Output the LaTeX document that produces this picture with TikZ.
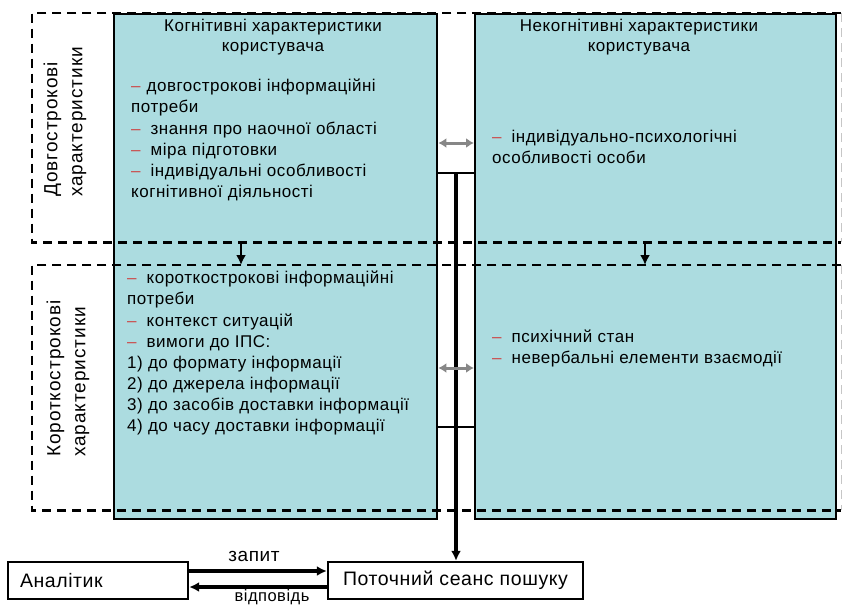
\documentclass[tikz,border=0pt]{standalone}
\usepackage{fontspec}
\setmainfont{Liberation Sans}
\newfontfamily\itemfont[LetterSpace=3]{Liberation Sans}
\newfontfamily\sidefont[LetterSpace=5]{Liberation Sans}
\usetikzlibrary{arrows.meta}
\definecolor{tealfill}{RGB}{172,220,224}
\definecolor{dashred}{RGB}{205,70,70}
\definecolor{arrowgray}{RGB}{135,135,135}
\newcommand{\rdash}[1][10pt]{\textcolor{dashred}{–}\hspace{#1}}
\begin{document}
\begin{tikzpicture}[x=1pt,y=-1pt,
		colbox/.style={draw,line width=2.4pt,fill=tealfill,anchor=north west,inner sep=0},
		rowbox/.style={anchor=north west,inner sep=0,minimum width=809pt},
		rowline/.style={dash pattern=on 9pt off 6pt,line width=2.6pt},
		edgeline/.style={dash pattern=on 9pt off 6pt,line width=1pt,gray!45},
		plainbox/.style={draw,line width=2.4pt,fill=white,minimum height=37pt,inner sep=0,font=\itemfont\fontsize{19.5}{22}\selectfont},
		itemtext/.style={anchor=north west,align=left,inner sep=0,font=\itemfont\fontsize{17}{21.1}\selectfont},
		titletext/.style={anchor=north,align=center,inner sep=0,font=\itemfont\fontsize{17}{20}\selectfont},
		sidetext/.style={rotate=90,anchor=west,align=left,inner sep=0,font=\sidefont\fontsize{19}{25}\selectfont},
		mainarrow/.style={-{Latex[length=10pt,width=10pt]},line width=3pt},
		grayarrow/.style={{Latex[length=8pt,width=10pt]}-{Latex[length=8pt,width=10pt]},line width=3pt,arrowgray}]
	\useasboundingbox (0,0) rectangle (842,605);

	% columns
	\node[colbox,minimum width=323pt,minimum height=505pt] (cog) at (113,13) {};
	\node[colbox,minimum width=361pt,minimum height=505pt] (noncog) at (474,13) {};

	% rows
	\node[rowbox,minimum height=229pt] (longrow) at (32,13) {};
	\node[rowbox,minimum height=245pt] (shortrow) at (32,265) {};
	\draw[rowline] (longrow.north east) -- (longrow.north west) -- (longrow.south west) -- (longrow.south east); % long-term row
	\draw[rowline] (shortrow.north east) -- (shortrow.north west) -- (shortrow.south west) -- (shortrow.south east); % short-term row
	\draw[edgeline] (longrow.north east) -- (longrow.south east);
	\draw[edgeline] (shortrow.north east) -- (shortrow.south east);

	% bottom boxes
	\node[plainbox,text width=160pt,inner xsep=10pt,align=left] (analyst) at (98,580.5) {\hspace{2pt}Аналітик};
	\node[plainbox,minimum width=255pt] (session) at (455.5,580.5) {Поточний сеанс пошуку};

	% join of both columns
	\coordinate (jointop) at (456,173);
	\coordinate (joinbot) at (456,427);
	\draw[line width=2pt] (cog.east |- jointop) -- (noncog.west |- jointop); % upper join
	\draw[line width=2pt] (cog.east |- joinbot) -- (noncog.west |- joinbot); % lower join
	\draw[mainarrow,line width=3.5pt] (jointop) -- (jointop |- session.north); % to session

	\draw[grayarrow] (cog.east |- 0,143) -- (noncog.west |- 0,143);
	\draw[grayarrow] (cog.east |- 0,368) -- (noncog.west |- 0,368);

	\draw[mainarrow,line width=2.4pt] (longrow.south -| 241,0) -- (shortrow.north -| 241,0); % cognitive, long to short
	\draw[mainarrow,line width=2.4pt] (longrow.south -| 645,0) -- (shortrow.north -| 645,0); % non-cognitive, long to short

	\draw[mainarrow,line width=3.5pt] (analyst.east |- 0,571) -- (session.west |- 0,571) node[midway,above=4pt,xshift=-4pt,font=\itemfont\fontsize{19}{22}\selectfont] (asklabel) {запит};
	\draw[mainarrow,line width=3.5pt] (session.west |- 0,587) -- (analyst.east |- 0,587) node[midway,below=0.5pt,inner sep=0,xshift=14pt,font=\itemfont\fontsize{16.5}{18}\selectfont] (replylabel) {відповідь};

	% texts
	\node[sidetext] (longlabel) at (65,197) {Довгострокові\\характеристики};
	\node[sidetext] (shortlabel) at (68,457) {Короткострокові\\характеристики};

	\node[titletext] (cogtitle) at (273,19) {Когнітивні характеристики\\користувача};
	\node[titletext] (noncogtitle) at (639,19) {Некогнітивні характеристики\\користувача};

	\node[itemtext] (coglong) at (131,79) {\rdash[6pt]довгострокові інформаційні\\потреби\\\rdash знання про наочної області\\\rdash міра підготовки\\\rdash індивідуальні особливості\\когнітивної діяльності};
	\node[itemtext] (noncoglong) at (492,130) {\rdash індивідуально-психологічні\\особливості особи};
	\node[itemtext] (cogshort) at (127,271) {\rdash короткострокові інформаційні\\потреби\\\rdash контекст ситуацій\\\rdash вимоги до ІПС:\\1) до формату інформації\\2) до джерела інформації\\3) до засобів доставки інформації\\4) до часу доставки інформації};
	\node[itemtext] (noncogshort) at (492,330) {\rdash психічний стан\\\rdash невербальні елементи взаємодії};
\end{tikzpicture}
\end{document}
